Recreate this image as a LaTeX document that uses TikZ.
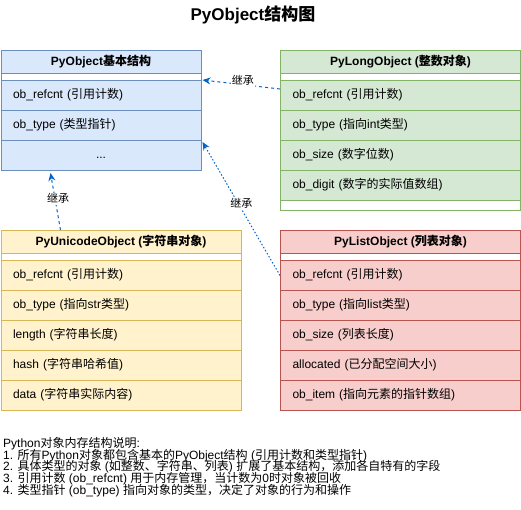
\documentclass[tikz,border=0pt]{standalone}
\usepackage{fontspec}
\setmainfont{Liberation Sans}
\newfontfamily\cjkfont{Noto Sans CJK SC}
\XeTeXinterchartokenstate=1
\newXeTeXintercharclass\CJKcls
\newcount\cjkcnt
\def\setcjkrange#1#2{\cjkcnt=#1\relax\loop\XeTeXcharclass\cjkcnt=\CJKcls\relax\ifnum\cjkcnt<#2\relax\advance\cjkcnt by 1\relax\repeat}
\setcjkrange{"4E00}{"9FFF}
\setcjkrange{"3000}{"303F}
\setcjkrange{"FF00}{"FFEF}
\XeTeXinterchartoks 0 \CJKcls = {\begingroup\cjkfont}
\XeTeXinterchartoks 4095 \CJKcls = {\begingroup\cjkfont}
\XeTeXinterchartoks \CJKcls 0 = {\endgroup}
\XeTeXinterchartoks \CJKcls 4095 = {\endgroup}
\usetikzlibrary{arrows.meta,calc}
\definecolor{bfill}{HTML}{DAE8FC}\definecolor{bstroke}{HTML}{6C8EBF}
\definecolor{gfill}{HTML}{D5E8D4}\definecolor{gstroke}{HTML}{82B366}
\definecolor{yfill}{HTML}{FFF2CC}\definecolor{ystroke}{HTML}{D6B656}
\definecolor{rfill}{HTML}{F8CECC}\definecolor{rstroke}{HTML}{B85450}
\definecolor{arrowblue}{HTML}{0066CC}
\begin{document}
\begin{tikzpicture}[x=1pt,y=-1pt,
  every node/.style={font=\fontsize{12}{14}\selectfont},
  outer/.style={draw, fill=white, anchor=north west, inner sep=0pt, line width=1pt},
  hdr/.style={draw, anchor=north west, inner sep=0pt, minimum height=23pt, line width=1pt,
    font=\fontsize{12}{14}\selectfont\bfseries},
  frow/.style={draw, anchor=north west, inner xsep=12pt, inner ysep=0pt, minimum height=30pt,
    text width=#1, align=left, line width=1pt, text height=9pt, text depth=3pt},
  inh/.style={draw=arrowblue, line width=1pt, -{Stealth[length=8pt,width=7pt]}},
  dsh/.style={dash pattern=on 3pt off 3pt},
  dtt/.style={dash pattern=on 1.5pt off 2pt},
  lbl/.style={fill=white, inner sep=1pt, font=\fontsize{11}{13}\selectfont},
  note/.style={anchor=base west, inner sep=0pt, font=\fontsize{12}{14}\selectfont}
]
\useasboundingbox (0,0) rectangle (521,510);

\node[font=\fontsize{17}{20}\selectfont\bfseries] (title) at (253,15) {PyObject结构图};

% PyObject
\node[outer, draw=bstroke, minimum width=200pt, minimum height=120pt] (pyobj) at (0.5,50) {};
\node[hdr, draw=bstroke, fill=bfill, minimum width=200pt] (pyobjH) at (0.5,50) {PyObject基本结构};
\node[frow=176pt, draw=bstroke, fill=bfill] (o1) at (0.5,80) {ob\_refcnt (引用计数)};
\node[frow=176pt, draw=bstroke, fill=bfill] (o2) at (0.5,110) {ob\_type (类型指针)};
\node[frow=176pt, draw=bstroke, fill=bfill, align=center] (o3) at (0.5,140) {...};

% PyLongObject
\node[outer, draw=gstroke, minimum width=240pt, minimum height=160pt] (long) at (280,50) {};
\node[hdr, draw=gstroke, fill=gfill, minimum width=240pt] (longH) at (280,50) {PyLongObject (整数对象)};
\node[frow=216pt, draw=gstroke, fill=gfill] (l1) at (280,80) {ob\_refcnt (引用计数)};
\node[frow=216pt, draw=gstroke, fill=gfill] (l2) at (280,110) {ob\_type (指向int类型)};
\node[frow=216pt, draw=gstroke, fill=gfill] (l3) at (280,140) {ob\_size (数字位数)};
\node[frow=216pt, draw=gstroke, fill=gfill] (l4) at (280,170) {ob\_digit (数字的实际值数组)};

% PyUnicodeObject
\node[outer, draw=ystroke, minimum width=240pt, minimum height=180pt] (uni) at (0.5,230) {};
\node[hdr, draw=ystroke, fill=yfill, minimum width=240pt] (uniH) at (0.5,230) {PyUnicodeObject (字符串对象)};
\node[frow=216pt, draw=ystroke, fill=yfill] (u1) at (0.5,260) {ob\_refcnt (引用计数)};
\node[frow=216pt, draw=ystroke, fill=yfill] (u2) at (0.5,290) {ob\_type (指向str类型)};
\node[frow=216pt, draw=ystroke, fill=yfill] (u3) at (0.5,320) {length (字符串长度)};
\node[frow=216pt, draw=ystroke, fill=yfill] (u4) at (0.5,350) {hash (字符串哈希值)};
\node[frow=216pt, draw=ystroke, fill=yfill] (u5) at (0.5,380) {data (字符串实际内容)};

% PyListObject
\node[outer, draw=rstroke, minimum width=240pt, minimum height=180pt] (lst) at (280,230) {};
\node[hdr, draw=rstroke, fill=rfill, minimum width=240pt] (lstH) at (280,230) {PyListObject (列表对象)};
\node[frow=216pt, draw=rstroke, fill=rfill] (ls1) at (280,260) {ob\_refcnt (引用计数)};
\node[frow=216pt, draw=rstroke, fill=rfill] (ls2) at (280,290) {ob\_type (指向list类型)};
\node[frow=216pt, draw=rstroke, fill=rfill] (ls3) at (280,320) {ob\_size (列表长度)};
\node[frow=216pt, draw=rstroke, fill=rfill] (ls4) at (280,350) {allocated (已分配空间大小)};
\node[frow=216pt, draw=rstroke, fill=rfill] (ls5) at (280,380) {ob\_item (指向元素的指针数组)};

% inheritance connectors
\draw[inh, dsh] ([yshift=-39pt]long.north west) -- node[lbl, pos=0.48, yshift=4pt] {继承} ([yshift=-30pt,xshift=1pt]pyobj.north east);
\draw[inh, dsh] ([xshift=60pt]uni.north west) -- node[lbl, pos=0.55, xshift=3pt] {继承} ([xshift=50pt,yshift=-2pt]pyobj.south west);
\draw[inh, dtt] (ls1.west) -- node[lbl, pos=0.5, yshift=5pt] {继承} ([yshift=-92pt,xshift=1pt]pyobj.north east);

% notes
\node[note] (n0) at (3,447.5) {Python对象内存结构说明:};
\node[note] (n1) at (3,459.2) {1. 所有Python对象都包含基本的PyObject结构 (引用计数和类型指针)};
\node[note] (n2) at (3,470.9) {2. 具体类型的对象 (如整数、字符串、列表) 扩展了基本结构，添加各自特有的字段};
\node[note] (n3) at (3,482.6) {3. 引用计数 (ob\_refcnt) 用于内存管理，当计数为0时对象被回收};
\node[note] (n4) at (3,494.3) {4. 类型指针 (ob\_type) 指向对象的类型，决定了对象的行为和操作};
\end{tikzpicture}
\end{document}
